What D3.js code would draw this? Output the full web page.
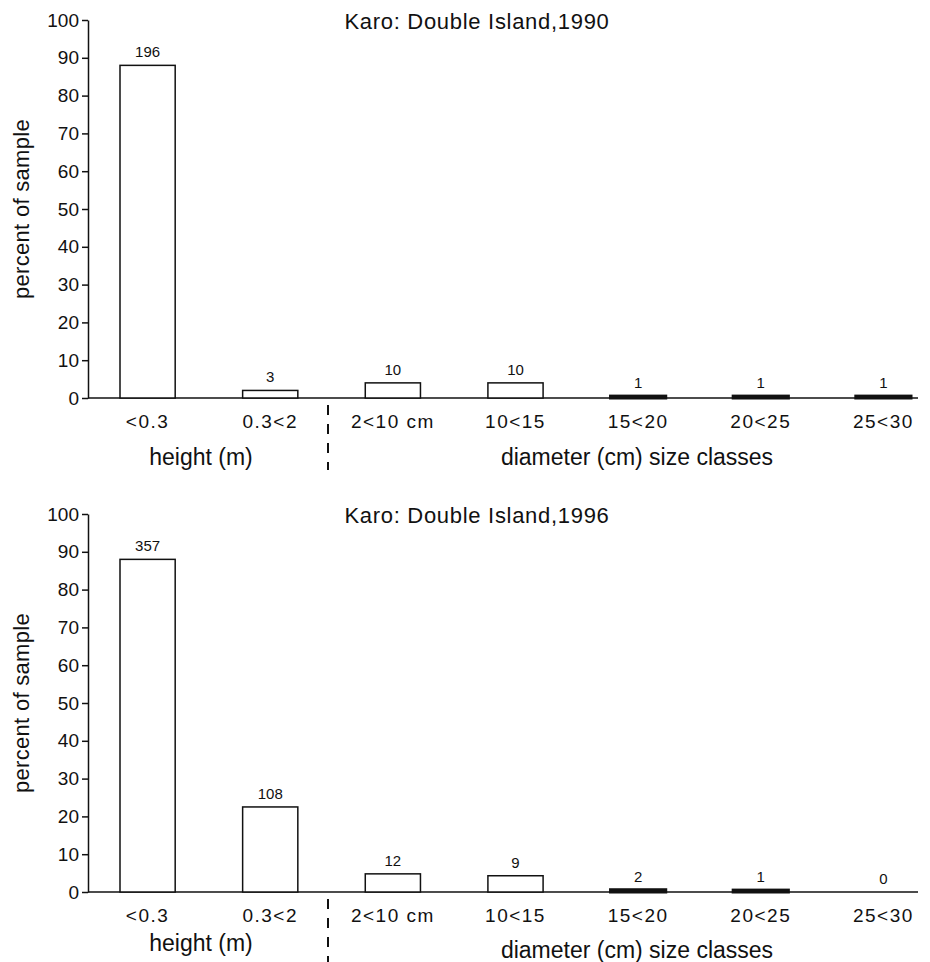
<!DOCTYPE html>
<html>
<head>
<meta charset="utf-8">
<script src="https://cdn.jsdelivr.net/npm/d3@7"></script>
<style>
  body { margin: 0; background: #fff; }
  text { font-family: "Liberation Sans", Arial, sans-serif; fill: #111; }
</style>
</head>
<body>
<svg id="chart" width="930" height="962"></svg>
<script>
// size classes
const categories = ["<0.3", "0.3<2", "2<10 cm", "10<15", "15<20", "20<25", "25<30"];
// percent of sample
const pct1990 = [88, 2, 4, 4, 0.5, 0.5, 0.5];
const pct1996 = [88, 22.5, 4.8, 4.3, 0.6, 0.5, 0];
// counts printed above the bars
const n1990 = [196, 3, 10, 10, 1, 1, 1];
const n1996 = [357, 108, 12, 9, 2, 1, 0];
const yTicks = [0, 10, 20, 30, 40, 50, 60, 70, 80, 90, 100];
const titles = ["Karo: Double Island,1990", "Karo: Double Island,1996"];
const groupLabels = ["height (m)", "diameter (cm) size classes"];

const svg = d3.select("svg#chart");

const x = d3.scaleBand()
  .domain(categories)
  .range([120, 911])
  .paddingInner(0.55)
  .paddingOuter(0);

const y = d3.scaleLinear().domain([0, 100]).range([398, 20]);

function drawPanel(offsetY, pct, counts, title, groupY) {
  const g = svg.append("g").attr("transform", `translate(0, ${offsetY})`);

  // y axis
  const yAxis = d3.axisLeft(y).tickValues(yTicks).tickSize(6).tickSizeOuter(0).tickPadding(3);
  g.append("g")
    .attr("transform", "translate(88, 0)")
    .call(yAxis)
    .call((a) => {
      a.selectAll(".tick text").style("font-size", "19px").attr("fill", "#111");
      a.selectAll("line, path").attr("stroke", "#111").attr("stroke-width", 1.5);
    });

  // baseline
  g.append("line")
    .attr("x1", 88).attr("x2", 918)
    .attr("y1", y(0)).attr("y2", y(0))
    .attr("stroke", "#111").attr("stroke-width", 1.5);

  // bars
  g.selectAll("rect.bar")
    .data(pct)
    .join("rect")
    .attr("class", "bar")
    .attr("x", (d, i) => x(categories[i]))
    .attr("width", x.bandwidth())
    .attr("y", (d) => y(d))
    .attr("height", (d) => y(0) - y(d))
    .attr("fill", "#fff")
    .attr("stroke", "#111")
    .attr("stroke-width", (d) => (d < 1 ? 3 : 1.5));

  // counts
  g.selectAll("text.count")
    .data(counts)
    .join("text")
    .attr("class", "count")
    .attr("x", (d, i) => x(categories[i]) + x.bandwidth() / 2)
    .attr("y", (d, i) => y(pct[i]) - 8)
    .attr("text-anchor", "middle")
    .style("font-size", "15px")
    .text((d) => d);

  // category labels
  const xAxis = d3.axisBottom(x).tickSize(0).tickPadding(17);
  g.append("g")
    .attr("transform", `translate(0, ${y(0)})`)
    .call(xAxis)
    .call((a) => {
      a.select(".domain").remove();
      a.selectAll(".tick text")
        .style("font-size", "19px")
        .attr("letter-spacing", "1.5px")
        .attr("fill", "#111");
    });

  // group labels
  g.append("text")
    .attr("x", 201).attr("y", groupY[0])
    .attr("text-anchor", "middle")
    .style("font-size", "23px")
    .text(groupLabels[0]);
  g.append("text")
    .attr("x", 637).attr("y", groupY[1])
    .attr("text-anchor", "middle")
    .style("font-size", "23px")
    .text(groupLabels[1]);

  // separator between height and diameter classes
  g.append("line")
    .attr("x1", 328).attr("x2", 328)
    .attr("y1", 405).attr("y2", 470)
    .attr("stroke", "#111").attr("stroke-width", 2)
    .attr("stroke-dasharray", "10,9");

  // title
  g.append("text")
    .attr("x", 477).attr("y", 29)
    .attr("text-anchor", "middle")
    .attr("letter-spacing", "0.7px")
    .style("font-size", "22px")
    .text(title);

  // y label
  g.append("text")
    .attr("transform", `translate(29, ${y(50)}) rotate(-90)`)
    .attr("text-anchor", "middle")
    .attr("letter-spacing", "0.3px")
    .style("font-size", "22px")
    .text("percent of sample");
}

drawPanel(0, pct1990, n1990, titles[0], [465, 465]);
drawPanel(494, pct1996, n1996, titles[1], [457, 464]);
</script>
</body>
</html>
